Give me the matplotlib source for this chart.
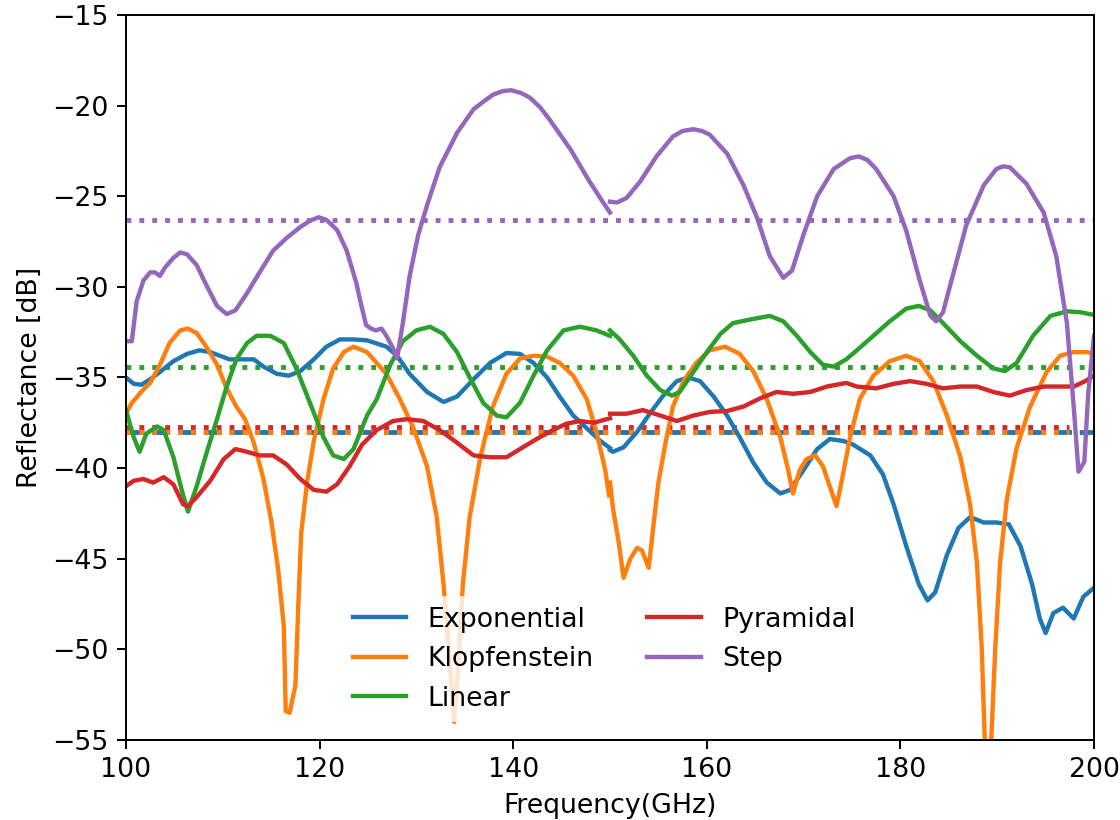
import matplotlib
matplotlib.use("Agg")
import matplotlib.pyplot as plt

# ---------------- data ----------------
series_names = ["Exponential", "Klopfenstein", "Linear", "Pyramidal", "Step"]
series_colors = ["tab:blue", "tab:orange", "tab:green", "tab:red", "tab:purple"]

# Exponential
exp_f1 = [100.0, 100.8, 101.6, 102.5, 103.5, 104.9, 106.3, 107.6, 108.7, 109.7, 110.7, 112.1, 113.2, 114.2,
          115.6, 116.8, 118.0, 119.4, 120.7, 122.1, 123.5, 124.9, 126.9, 128.0, 129.3, 131.1, 132.8, 134.2,
          135.9, 137.6, 139.3, 140.7, 142.1, 143.5, 144.8, 146.2, 147.6, 149.0, 150.0]
exp_r1 = [-35.0, -35.35, -35.4, -35.1, -34.7, -34.1, -33.7, -33.5, -33.6, -33.8, -34.0, -34.0, -34.0, -34.4,
          -34.8, -34.9, -34.65, -34.0, -33.3, -32.9, -32.9, -32.95, -33.3, -33.8, -34.8, -35.8, -36.35, -36.05,
          -35.1, -34.2, -33.65, -33.7, -34.2, -35.0, -36.05, -37.1, -37.8, -38.5, -38.9]
exp_f2 = [150.0, 150.3, 151.4, 152.8, 154.1, 155.5, 156.9, 158.1, 159.3, 160.7, 162.1, 163.4, 164.8, 166.2,
          167.6, 168.6, 170.0, 171.4, 172.7, 174.1, 175.1, 176.9, 178.2, 179.3, 180.6, 181.9, 182.8, 183.6,
          184.8, 186.0, 187.2, 188.6, 189.9, 191.2, 192.4, 193.6, 194.4, 195.0, 195.8, 196.8, 197.9, 198.9, 200.0]
exp_r2 = [-39.0, -39.1, -38.85, -38.0, -37.0, -36.0, -35.2, -35.0, -35.2, -36.05, -37.1, -38.3, -39.7, -40.8,
          -41.4, -41.2, -40.1, -38.95, -38.4, -38.5, -38.7, -39.3, -40.35, -42.0, -44.3, -46.4, -47.3, -46.85,
          -44.8, -43.3, -42.7, -43.0, -43.0, -43.1, -44.3, -46.4, -48.3, -49.1, -48.0, -47.7, -48.3, -47.1, -46.6]

# Klopfenstein
klo_f1 = [100.0, 100.6, 101.4, 102.1, 102.5, 103.5, 104.5, 105.6, 106.4, 107.3, 108.3, 109.4, 110.4, 111.4,
          112.3, 113.2, 114.2, 115.0, 115.7, 116.3, 116.5, 116.9, 117.5, 117.8, 118.1, 118.7, 119.4, 120.4,
          121.4, 122.5, 123.5, 124.9, 126.9, 128.3, 129.7, 131.1, 132.1, 132.8, 133.5, 133.9, 134.3, 134.8,
          135.5, 136.6, 137.9, 139.3, 140.7, 142.1, 143.5, 144.8, 146.2, 147.6, 148.6, 149.5, 149.9]
klo_r1 = [-37.0, -36.4, -35.9, -35.5, -35.3, -34.3, -33.1, -32.4, -32.3, -32.55, -33.3, -34.3, -35.6, -36.6,
          -37.3, -38.6, -40.6, -42.9, -45.5, -48.7, -53.4, -53.5, -52.0, -47.55, -43.6, -40.8, -38.5, -36.2,
          -34.5, -33.6, -33.3, -33.6, -34.8, -36.2, -37.8, -39.9, -42.7, -46.4, -51.05, -54.0, -51.05, -46.4,
          -42.7, -39.4, -36.6, -34.8, -33.95, -33.8, -33.85, -34.2, -34.9, -36.2, -38.0, -40.1, -41.5]
klo_f2 = [150.0, 150.3, 150.9, 151.4, 152.1, 152.8, 153.3, 154.0, 154.5, 155.0, 155.7, 156.5, 157.6, 158.9,
          160.3, 161.9, 163.4, 164.8, 166.2, 167.6, 168.4, 168.9, 169.6, 170.3, 171.2, 172.0, 172.7, 173.4,
          173.9, 174.8, 175.8, 177.2, 178.9, 180.6, 182.0, 183.4, 184.8, 186.2, 187.2, 187.9, 188.4, 188.7,
          189.05, 189.4, 189.8, 190.3, 191.0, 192.0, 193.4, 195.1, 196.5, 197.9, 199.3, 200.0]
klo_r2 = [-40.8, -42.2, -44.1, -46.05, -45.0, -44.4, -44.55, -45.5, -43.1, -40.8, -38.7, -36.6, -35.2, -34.2,
          -33.5, -33.3, -33.7, -34.65, -36.2, -38.3, -40.1, -41.4, -40.1, -39.5, -39.3, -39.9, -41.0, -42.1,
          -40.8, -38.3, -36.2, -34.9, -34.1, -33.8, -34.1, -35.2, -37.1, -39.4, -42.0, -45.2, -49.9, -54.8,
          -57.5, -54.8, -49.9, -45.2, -41.7, -38.9, -36.6, -34.7, -33.8, -33.6, -33.6, -33.7]

# Linear
lin_f1 = [100.0, 100.8, 101.4, 102.1, 103.2, 103.9, 104.9, 105.8, 106.4, 107.3, 108.3, 109.4, 110.4, 111.4,
          112.5, 113.5, 114.9, 116.3, 117.6, 119.0, 120.4, 121.4, 122.5, 123.5, 124.9, 125.9, 127.3, 128.6,
          130.0, 131.4, 132.8, 134.2, 135.5, 136.9, 138.3, 139.3, 140.7, 142.1, 143.5, 145.2, 146.9, 148.6, 150.0]
lin_r1 = [-36.8, -38.3, -39.1, -38.1, -37.7, -37.9, -39.4, -41.3, -42.4, -41.0, -39.2, -37.3, -35.5, -34.0,
          -33.1, -32.7, -32.7, -33.1, -34.5, -36.4, -38.3, -39.3, -39.5, -38.95, -37.1, -36.2, -34.3, -33.0,
          -32.4, -32.2, -32.6, -33.6, -35.0, -36.4, -37.1, -37.2, -36.4, -34.9, -33.5, -32.4, -32.2, -32.4, -32.7]
lin_f2 = [150.0, 151.0, 152.4, 153.8, 155.2, 156.4, 157.2, 158.6, 160.0, 161.4, 162.7, 164.5, 166.5, 167.9,
          169.3, 170.7, 172.0, 173.1, 174.4, 175.5, 177.2, 178.9, 180.6, 181.9, 183.1, 184.4, 186.2, 187.9,
          189.6, 190.8, 192.0, 193.7, 195.5, 197.2, 198.6, 200.0]
lin_r2 = [-32.4, -32.9, -33.8, -34.9, -35.7, -36.0, -35.8, -34.7, -33.6, -32.6, -32.0, -31.8, -31.6, -31.9,
          -32.7, -33.6, -34.3, -34.4, -34.0, -33.5, -32.7, -31.9, -31.2, -31.05, -31.3, -32.0, -33.0, -33.8,
          -34.5, -34.65, -34.2, -32.7, -31.6, -31.35, -31.4, -31.55]

# Pyramidal
pyr_f1 = [100.0, 100.8, 101.8, 102.8, 103.9, 104.9, 105.9, 106.4, 107.3, 108.7, 110.1, 111.3, 112.5, 113.8,
          115.2, 116.6, 118.0, 119.4, 120.7, 121.8, 123.1, 124.4, 125.9, 127.6, 129.0, 130.7, 132.4, 134.2,
          135.9, 137.6, 139.3, 140.7, 142.4, 144.1, 145.5, 146.9, 148.3, 150.0]
pyr_r1 = [-41.0, -40.7, -40.6, -40.8, -40.5, -40.9, -42.0, -42.1, -41.6, -40.7, -39.5, -38.95, -39.1, -39.3,
          -39.3, -39.8, -40.6, -41.2, -41.3, -40.9, -39.9, -38.7, -37.9, -37.4, -37.3, -37.4, -37.9, -38.6,
          -39.3, -39.4, -39.4, -38.95, -38.4, -37.9, -37.55, -37.4, -37.5, -37.25]
pyr_f2 = [150.0, 151.7, 153.4, 155.2, 156.9, 158.6, 160.3, 162.1, 163.8, 165.5, 167.2, 168.9, 170.7, 172.4,
          174.4, 175.5, 177.5, 179.3, 181.0, 182.7, 184.4, 186.2, 187.9, 189.6, 191.3, 193.0, 194.8, 196.5,
          197.9, 199.1, 200.0]
pyr_r2 = [-37.0, -37.0, -36.8, -37.1, -37.4, -37.1, -36.9, -36.85, -36.6, -36.15, -35.8, -35.9, -35.8, -35.5,
          -35.3, -35.5, -35.6, -35.35, -35.2, -35.35, -35.6, -35.5, -35.5, -35.8, -36.0, -35.7, -35.5, -35.5,
          -35.5, -35.2, -34.9]

# Step
step_f1 = [100.2, 100.6, 101.1, 101.8, 102.5, 103.0, 103.5, 104.0, 104.9, 105.6, 106.3, 107.3, 108.3, 109.4,
           110.4, 111.3, 112.5, 113.8, 115.2, 116.6, 118.0, 119.0, 119.9, 120.7, 121.8, 122.8, 123.8, 124.3,
           124.8, 125.3, 125.8, 126.4, 126.9, 127.6, 128.0, 128.6, 129.3, 130.2, 131.1, 132.4, 134.2, 135.9,
           137.0, 137.9, 138.9, 139.8, 140.8, 141.7, 142.8, 143.8, 145.9, 147.9, 149.3, 150.0]
step_r1 = [-33.0, -33.0, -30.8, -29.65, -29.2, -29.2, -29.4, -28.95, -28.4, -28.1, -28.2, -28.8, -29.9, -31.05,
           -31.5, -31.3, -30.35, -29.2, -28.0, -27.3, -26.7, -26.35, -26.16, -26.3, -26.86, -28.0, -29.8, -31.0,
           -32.1, -32.3, -32.4, -32.3, -32.7, -33.4, -33.95, -32.0, -29.4, -27.1, -25.5, -23.4, -21.5, -20.2,
           -19.75, -19.4, -19.2, -19.15, -19.3, -19.55, -20.1, -20.8, -22.4, -24.2, -25.35, -25.9]
step_f2 = [150.0, 150.7, 151.7, 153.1, 154.8, 156.5, 157.5, 158.6, 159.5, 160.3, 162.1, 163.8, 165.2, 166.5,
           167.9, 168.8, 170.0, 171.4, 173.1, 174.8, 175.7, 176.6, 177.5, 179.3, 180.6, 182.0, 183.1, 183.7,
           184.4, 185.5, 186.8, 188.6, 189.9, 190.6, 191.3, 193.0, 194.8, 196.1, 197.2, 197.9, 198.4, 199.0,
           199.4, 200.0]
step_r2 = [-25.3, -25.35, -25.1, -24.2, -22.8, -21.7, -21.4, -21.3, -21.4, -21.6, -22.65, -24.4, -26.2, -28.3,
           -29.5, -29.1, -27.1, -25.0, -23.5, -22.9, -22.8, -23.0, -23.5, -25.0, -26.9, -29.65, -31.6, -31.9,
           -31.4, -29.2, -26.6, -24.4, -23.5, -23.35, -23.4, -24.3, -25.9, -28.3, -32.0, -36.6, -40.2, -39.65,
           -35.9, -32.7]

# average reflectance levels (horizontal reference lines)
avg_levels = [-38.0, -38.0, -34.4, -37.75, -26.3]
avg_xend = [200.0, 197.4, 200.0, 197.4, 200.0]
avg_styles = ["--", ":", ":", ":", ":"]

x_ticks = [100, 120, 140, 160, 180, 200]
y_ticks = [-55, -50, -45, -40, -35, -30, -25, -20, -15]

bands = [
    ((exp_f1, exp_r1), (exp_f2, exp_r2)),
    ((klo_f1, klo_r1), (klo_f2, klo_r2)),
    ((lin_f1, lin_r1), (lin_f2, lin_r2)),
    ((pyr_f1, pyr_r1), (pyr_f2, pyr_r2)),
    ((step_f1, step_r1), (step_f2, step_r2)),
]

# ---------------- figure ----------------
plt.rcParams["font.family"] = ["DejaVu Sans"]
plt.rcParams["font.size"] = 11

fig = plt.figure(figsize=(6.4, 820 / 175), dpi=175)
ax = fig.add_axes([0.1125, 0.0976, 0.8643, 0.8841])

# average lines
for i in range(len(series_names)):
    ax.hlines(avg_levels[i], 100, avg_xend[i], colors=series_colors[i],
              linestyles=avg_styles[i], linewidth=2, zorder=1)

# solid curves
for name, color, ((f1, r1), (f2, r2)) in zip(series_names, series_colors, bands):
    ax.plot(f1, r1, color=color, linewidth=1.8, label=name, zorder=2,
            solid_joinstyle="round")
    ax.plot(f2, r2, color=color, linewidth=1.8, zorder=2, solid_joinstyle="round")

ax.set_xlim(100, 200)
ax.set_ylim(-55, -15)
ax.set_xticks(x_ticks)
ax.set_yticks(y_ticks)
ax.set_xlabel("Frequency(GHz)")
ax.set_ylabel("Reflectance [dB]")

leg = ax.legend(loc="lower center", bbox_to_anchor=(0.494, 0.006), ncol=2, fontsize=11,
                frameon=True, framealpha=0.8, edgecolor="none")

fig.savefig("out.png", dpi=175)
